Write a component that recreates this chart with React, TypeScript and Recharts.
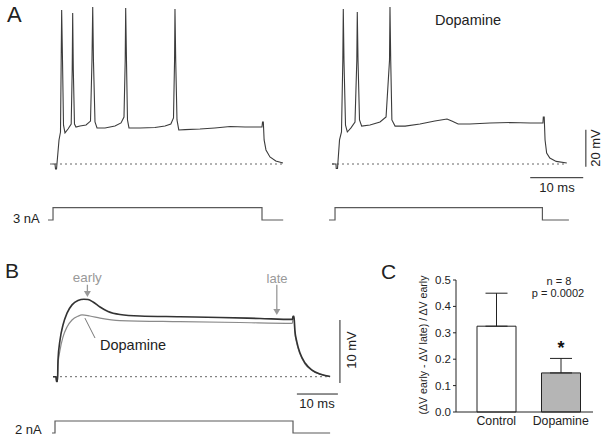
import React from 'react';
import {
  LineChart, Line, XAxis, YAxis, ReferenceLine, ReferenceDot,
  BarChart, Bar, Cell, ErrorBar, LabelList,
} from 'recharts';

// ---- Panel A: membrane potential (mV above rest) vs time (ms), 3 nA step ----
const ctrlA = [
  [0.4, 0], [0.94, 0], [1.04, -2.7], [1.23, -2.7], [1.7, 13], [1.98, 17.3],
  [2.11, 56], [2.2, 83.2], [2.36, 56], [2.55, 21], [2.83, 16.8], [3.4, 18.9], [4.0, 21.6],
  [4.19, 50.8], [4.28, 81.6], [4.4, 50.8], [4.62, 21.6], [4.9, 20], [5.66, 20.5], [6.8, 21.1], [7.64, 23.2],
  [7.92, 56], [8.06, 84.9], [8.2, 56], [8.49, 22.7], [8.87, 19.5], [10.38, 19.5], [12.26, 20.5], [13.4, 22.2], [13.96, 25.4],
  [14.19, 56], [14.28, 84.3], [14.43, 56], [14.62, 23.8], [14.9, 19.5], [17.0, 19.5], [19.8, 19.7], [21.7, 20.5], [22.8, 21.6], [23.3, 24.9],
  [23.5, 56], [23.58, 83.8], [23.72, 56], [23.96, 23.8], [24.3, 18.4], [25.5, 18.6], [28.3, 18.9], [31.1, 19.5],
  [34.0, 20.3], [36.8, 20], [39.2, 20], [40.0, 20], [40.1, 22.7], [40.25, 22.7], [40.4, 13], [40.75, 7.6],
  [41.5, 3.8], [42.6, 1.6], [43.96, 0.5],
];
const dopaA = [
  [0, 0], [0.75, 0], [0.8, -2.4], [1.04, -2.4], [1.42, 13], [1.79, 17.3],
  [2.04, 56], [2.13, 83.8], [2.26, 56], [2.55, 21], [2.89, 17.3], [3.58, 19.5], [4.34, 22.7],
  [4.68, 56], [4.77, 82.2], [4.91, 56], [5.19, 23.8], [5.6, 20.5], [7.17, 21.1], [9.06, 22.7], [10.2, 25.4],
  [10.85, 56], [10.94, 84.9], [11.08, 56], [11.3, 23.8], [11.9, 20.5], [13.8, 20.5], [16.6, 21.6], [19.4, 23.2],
  [21.7, 24.3], [22.6, 23.2], [23.8, 21.6], [26.0, 21.6], [29.8, 22.2], [33.6, 22.4], [37.4, 22.2], [39.8, 22.2],
  [39.87, 25.4], [40.04, 25.4], [40.2, 13], [40.5, 5.9], [41.1, 3.2], [42.3, 1.4], [44.3, 0.5],
];
const stepA1 = [[-0.38, 0], [0.57, 0], [0.57, 3], [40, 3], [40, 0], [44, 0]];
const stepA2 = [[-0.57, 0], [0.57, 0], [0.57, 3], [39.7, 3], [39.7, 0], [44.7, 0]];

// ---- Panel B: subthreshold response, 2 nA step ----
const ctrlB = [
  [-0.49, 0], [0.24, 0], [0.37, -0.76], [0.61, -0.76], [0.73, 2.65], [1.22, 5.8], [1.95, 8.2], [2.93, 10.1],
  [4.15, 11.4], [5.6, 12.1], [7.07, 12.3], [8.05, 12.25], [9.27, 11.86], [10.98, 11.06], [12.93, 10.35],
  [15.85, 9.87], [20.7, 9.63], [30.5, 9.52], [40.2, 9.4], [50, 9.24], [57.9, 9.1], [58.05, 9.6], [58.3, 9.6],
  [58.5, 7.4], [59, 5.5], [59.76, 3.76], [61, 2.17], [62.7, 1.06], [64.6, 0.43], [67.1, 0.03],
];
const dopaB = [
  [-0.49, 0], [0.24, 0], [0.37, -0.76], [0.61, -0.76], [0.73, 1.86], [1.22, 4.2], [1.95, 6.3], [2.93, 7.9],
  [4.15, 9.0], [5.6, 9.6], [6.6, 9.8], [8.5, 9.63], [10.98, 9.3], [15.85, 8.9], [30.5, 8.73], [45.1, 8.6],
  [57.9, 8.48], [58.05, 9.3], [58.3, 9.3], [58.5, 7.1], [59, 5.2], [59.76, 3.6], [61, 2.0], [62.7, 1.0],
  [64.6, 0.4], [67.1, 0.02],
];
const stepB = [[-0.73, 0], [0, 0], [0, 2], [58.05, 2], [58.05, 0], [67.1, 0]];
const earlyT = 7.9;
const lateT = 54.1;

// ---- Panel C: (dV early - dV late) / dV early ----
const groups = ['Control', 'Dopamine'];
const means = [0.325, 0.148];
const sems = [0.125, 0.055];
const marks = ['', '*'];
const yTicksC = [0, 0.1, 0.2, 0.3, 0.4, 0.5];

const pts = (a: number[][]) => a.map(([t, v]) => ({ t, v }));
const cData = groups.map((g, i) => ({ g, m: means[i], e: [0, sems[i]], mark: marks[i] }));
const barFills = ['#ffffff', '#b5b5b5'];

const font = '"Liberation Sans", Arial, Helvetica, sans-serif';
const ink = '#222';
const traceCol = '#3c3c3c';
const stepCol = '#5a5a5a';
const grey = '#999';

type Geo = { left: number; top: number; width: number; height: number; x0: number; y0: number; sx: number; sy: number };

// a hidden-axis LineChart whose data units land on a given pixel origin / scale
function Trace({ g, children }: { g: Geo; children: React.ReactNode }) {
  const xd = [(g.left - g.x0) / g.sx, (g.left + g.width - g.x0) / g.sx];
  const yd = [(g.y0 - g.top - g.height) / g.sy, (g.y0 - g.top) / g.sy];
  return (
    <div style={{ position: 'absolute', left: g.left, top: g.top }}>
      <LineChart width={g.width} height={g.height} margin={{ top: 0, right: 0, bottom: 0, left: 0 }}>
        <XAxis type="number" dataKey="t" domain={xd} hide allowDataOverflow />
        <YAxis type="number" dataKey="v" domain={yd} hide allowDataOverflow />
        {children}
      </LineChart>
    </div>
  );
}

function Txt({ x, y, size, children, color = ink, anchor = 'middle', rotate = false, bold = false }: any) {
  const tx = anchor === 'start' ? '0' : '-50%';
  return (
    <div style={{
      position: 'absolute', left: x, top: y, fontSize: size, color, fontFamily: font,
      lineHeight: 1, whiteSpace: 'nowrap', fontWeight: bold ? 'bold' : 'normal',
      transform: `translate(${tx}, -50%)${rotate ? ' rotate(-90deg)' : ''}`,
    }}>{children}</div>
  );
}

const dotted = { stroke: '#666', strokeDasharray: '2 3', strokeWidth: 1 };
const arrowHead = (p: any) => (
  <polygon points={`${p.cx - 3.5},${p.cy - 6} ${p.cx + 3.5},${p.cy - 6} ${p.cx},${p.cy}`} fill={grey} />
);

const A1: Geo = { left: 40, top: 0, width: 260, height: 185, x0: 50, y0: 164, sx: 5.3, sy: 1.85 };
const A2: Geo = { left: 322, top: 0, width: 280, height: 185, x0: 332, y0: 164, sx: 5.3, sy: 1.85 };
const A1i: Geo = { left: 40, top: 198, width: 260, height: 30, x0: 50, y0: 220, sx: 5.3, sy: 4.1 };
const A2i: Geo = { left: 322, top: 198, width: 260, height: 30, x0: 332, y0: 220, sx: 5.3, sy: 4.1 };
const B: Geo = { left: 45, top: 280, width: 305, height: 120, x0: 55, y0: 376.7, sx: 4.1, sy: 6.3 };
const Bi: Geo = { left: 45, top: 412, width: 300, height: 28, x0: 55, y0: 433, sx: 4.1, sy: 6 };

export default function App() {
  return (
    <div style={{ position: 'absolute', left: 0, top: 0, width: 604, height: 446, background: '#fff', overflow: 'hidden' }}>
      {/* A, control */}
      <Trace g={A1}>
        <ReferenceLine segment={[{ x: 0, y: 0 }, { x: 44, y: 0 }]} {...dotted} />
        <Line data={pts(ctrlA)} dataKey="v" type="linear" stroke={traceCol} strokeWidth={1.1} dot={false} activeDot={false} isAnimationActive={false} />
      </Trace>
      {/* A, dopamine + scale bars */}
      <Trace g={A2}>
        <ReferenceLine segment={[{ x: 0, y: 0 }, { x: 44.3, y: 0 }]} {...dotted} />
        <Line data={pts(dopaA)} dataKey="v" type="linear" stroke={traceCol} strokeWidth={1.1} dot={false} activeDot={false} isAnimationActive={false} />
        <ReferenceLine segment={[{ x: 47.9, y: -1.5 }, { x: 47.9, y: 18.5 }]} stroke={ink} strokeWidth={1} />
        <ReferenceLine segment={[{ x: 37.4, y: -7.4 }, { x: 47.4, y: -7.4 }]} stroke={ink} strokeWidth={1} />
      </Trace>
      <Trace g={A1i}>
        <Line data={pts(stepA1)} dataKey="v" type="linear" stroke={stepCol} strokeWidth={1.2} dot={false} activeDot={false} isAnimationActive={false} />
      </Trace>
      <Trace g={A2i}>
        <Line data={pts(stepA2)} dataKey="v" type="linear" stroke={stepCol} strokeWidth={1.2} dot={false} activeDot={false} isAnimationActive={false} />
      </Trace>

      {/* B */}
      <Trace g={B}>
        <ReferenceLine segment={[{ x: 0, y: 0 }, { x: 67, y: 0 }]} {...dotted} />
        <Line data={pts(dopaB)} dataKey="v" type="monotone" stroke="#8a8a8a" strokeWidth={1.2} dot={false} activeDot={false} isAnimationActive={false} />
        <Line data={pts(ctrlB)} dataKey="v" type="monotone" stroke="#333" strokeWidth={1.6} dot={false} activeDot={false} isAnimationActive={false} />
        <ReferenceLine segment={[{ x: earlyT, y: 14.6 }, { x: earlyT, y: 13.4 }]} stroke={grey} strokeWidth={1.3} />
        <ReferenceDot x={earlyT} y={12.65} shape={arrowHead} />
        <ReferenceLine segment={[{ x: lateT, y: 14.6 }, { x: lateT, y: 10.6 }]} stroke={grey} strokeWidth={1.3} />
        <ReferenceDot x={lateT} y={9.79} shape={arrowHead} />
        <ReferenceLine segment={[{ x: 7.3, y: 9.3 }, { x: 9.76, y: 6.14 }]} stroke="#777" strokeWidth={1} />
        <ReferenceLine segment={[{ x: 69.5, y: -1 }, { x: 69.5, y: 9 }]} stroke={ink} strokeWidth={1} />
        <ReferenceLine segment={[{ x: 59, y: -2.75 }, { x: 69, y: -2.75 }]} stroke={ink} strokeWidth={1} />
      </Trace>
      <Trace g={Bi}>
        <Line data={pts(stepB)} dataKey="v" type="linear" stroke={stepCol} strokeWidth={1.2} dot={false} activeDot={false} isAnimationActive={false} />
      </Trace>

      {/* C */}
      <div style={{ position: 'absolute', left: 380, top: 270 }}>
        <BarChart width={220} height={160} data={cData} margin={{ top: 10, right: 7, bottom: 0, left: 0 }}>
          <XAxis dataKey="g" interval={0} tickLine={false} tickSize={0} tickMargin={4} height={18}
            padding={{ left: 8, right: 0 }} axisLine={{ stroke: ink }}
            tick={{ fontSize: 12.3, fill: ink, fontFamily: font }} />
          <YAxis type="number" domain={[0, 0.5]} ticks={yTicksC} tickFormatter={(v: number) => v.toFixed(1)}
            width={76} tickSize={3} tickMargin={2} axisLine={{ stroke: ink }} tickLine={{ stroke: ink }}
            tick={{ fontSize: 11.5, fill: ink, fontFamily: font }} />
          <Bar dataKey="m" barSize={39} stroke={ink} strokeWidth={1} isAnimationActive={false}>
            {cData.map((d, i) => <Cell key={d.g} fill={barFills[i]} />)}
            <ErrorBar dataKey="e" width={11} stroke={ink} strokeWidth={1} direction="y" isAnimationActive={false} />
            <LabelList dataKey="mark" position="top" offset={19} fontSize={18} fontWeight="bold" fill="#111" fontFamily={font} />
          </Bar>
        </BarChart>
      </div>

      {/* text */}
      <Txt x={7} y={15} size={22} anchor="start">A</Txt>
      <Txt x={435} y={20} size={14.5} anchor="start">Dopamine</Txt>
      <Txt x={595} y={148} size={13} rotate>20 mV</Txt>
      <Txt x={557} y={187} size={13}>10 ms</Txt>
      <Txt x={13} y={218} size={13} anchor="start">3 nA</Txt>

      <Txt x={5} y={270} size={21} anchor="start">B</Txt>
      <Txt x={87.3} y={278} size={13.4} color={grey}>early</Txt>
      <Txt x={277} y={278} size={13} color={grey}>late</Txt>
      <Txt x={100} y={345} size={14.5} anchor="start">Dopamine</Txt>
      <Txt x={351} y={350} size={13} rotate>10 mV</Txt>
      <Txt x={317} y={403} size={13}>10 ms</Txt>
      <Txt x={15} y={429} size={13} anchor="start">2 nA</Txt>

      <Txt x={381} y={271} size={21} anchor="start">C</Txt>
      <Txt x={423} y={345} size={10.6} rotate>(ΔV early - ΔV late) / ΔV early</Txt>
      <Txt x={559} y={281} size={11}>n = 8</Txt>
      <Txt x={558} y={292.5} size={11}>p = 0.0002</Txt>
    </div>
  );
}
